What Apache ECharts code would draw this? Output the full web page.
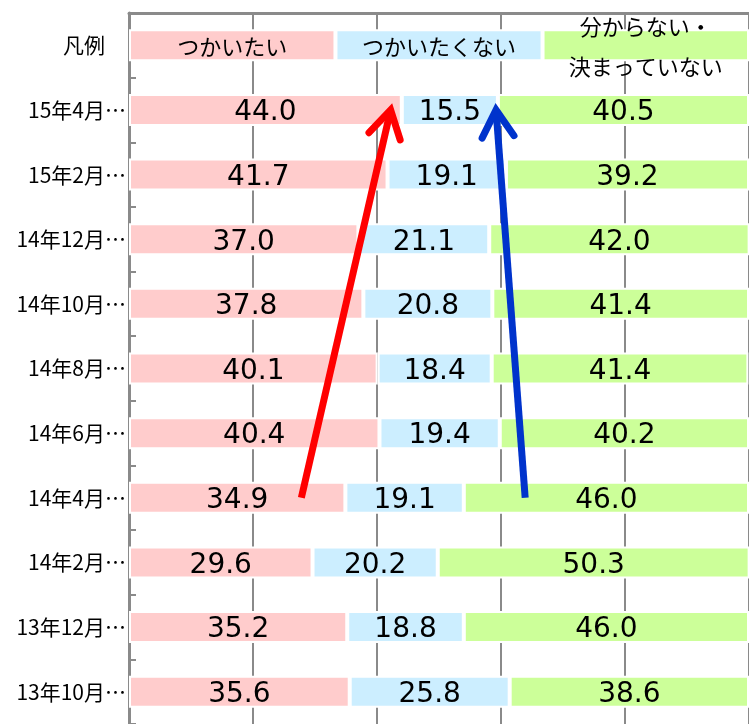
<!DOCTYPE html>
<html>
<head>
<meta charset="utf-8">
<script src="https://cdn.jsdelivr.net/npm/echarts@6/dist/echarts.min.js"></script>
<style>
  html, body { margin: 0; padding: 0; background: #fff; }
  #chart { width: 749px; height: 724px; }
</style>
</head>
<body>
<div id="chart"></div>
<script>
// rows top -> bottom, first row is the legend bar
const categories = ['凡例　', '15年4月…', '15年2月…', '14年12月…', '14年10月…', '14年8月…',
  '14年6月…', '14年4月…', '14年2月…', '13年12月…', '13年10月…'];
const seriesNames = ['つかいたい', 'つかいたくない', '分からない・\n決まっていない'];
const legendShare = [33.3, 33.4, 33.3];
const wantTo = [44.0, 41.7, 37.0, 37.8, 40.1, 40.4, 34.9, 29.6, 35.2, 35.6];
const notWant = [15.5, 19.1, 21.1, 20.8, 18.4, 19.4, 19.1, 20.2, 18.8, 25.8];
const undecided = [40.5, 39.2, 42.0, 41.4, 41.4, 40.2, 46.0, 50.3, 46.0, 38.6];
const colors = ['#ffcccc', '#cceeff', '#ccff99'];
// annotation arrows: [x start, row start, x tip, row tip] in axis units
const redArrow = [27.8, 7.0, 42.2, 0.98];
const blueArrow = [63.9, 7.0, 59.2, 0.98];

const numFont = "'DejaVu Sans', 'Noto Sans CJK JP', sans-serif";
const jpFont = "'Noto Sans CJK JP', sans-serif";

const buildData = (legendVal, values, name) => [
  {
    value: legendVal,
    label: { formatter: name, fontSize: 22, fontFamily: jpFont, lineHeight: 40, offset: [0, 1] },
  },
  ...values,
];

const barSeries = [wantTo, notWant, undecided].map((vals, i) => ({
  name: seriesNames[i],
  type: 'bar',
  stack: 'all',
  barWidth: 32,
  itemStyle: { color: colors[i], borderColor: '#fff', borderWidth: 2 },
  label: {
    show: true,
    position: 'inside',
    color: '#000',
    fontSize: 28,
    fontFamily: numFont,
    offset: [0, 3],
    formatter: (p) => Number(p.value).toFixed(1),
  },
  data: buildData(legendShare[i], vals, seriesNames[i]),
}));

const arrowSeries = (arr, color) => ({
  type: 'custom',
  z: 10,
  silent: true,
  dimensions: ['x0', 'y0', 'x1', 'y1'],
  encode: { x: [0, 2], y: [1, 3] },
  data: [arr],
  renderItem: (params, api) => {
    const p0 = api.coord([api.value(0), api.value(1)]);
    const p1 = api.coord([api.value(2), api.value(3)]);
    const dx = p1[0] - p0[0];
    const dy = p1[1] - p0[1];
    const len = Math.sqrt(dx * dx + dy * dy);
    const ux = dx / len;
    const uy = dy / len;
    const nx = -uy;
    const ny = ux;
    const back = 27;
    const half = 16;
    const armA = [p1[0] - ux * back + nx * half, p1[1] - uy * back + ny * half];
    const armB = [p1[0] - ux * back - nx * half, p1[1] - uy * back - ny * half];
    return {
      type: 'group',
      children: [
        {
          type: 'line',
          shape: { x1: p0[0], y1: p0[1], x2: p1[0] - ux * 4, y2: p1[1] - uy * 4 },
          style: { stroke: color, lineWidth: 7 },
        },
        {
          type: 'polyline',
          shape: { points: [armA, p1, armB] },
          style: { stroke: color, fill: null, lineWidth: 7, lineCap: 'round', lineJoin: 'miter' },
        },
      ],
    };
  },
});

const chart = echarts.init(document.getElementById('chart'));
chart.setOption({
  animation: false,
  grid: { left: 129, top: 13, right: -3, bottom: -4, containLabel: false },
  xAxis: {
    type: 'value',
    position: 'top',
    min: 0,
    max: 100,
    interval: 20,
    axisLine: { show: true, lineStyle: { color: '#8a8a8a', width: 3 } },
    axisTick: { show: false },
    axisLabel: { show: false },
    splitLine: { show: true, lineStyle: { color: '#8a8a8a', width: 2 } },
  },
  yAxis: {
    type: 'category',
    inverse: true,
    data: categories,
    axisLine: { show: true, lineStyle: { color: '#8a8a8a', width: 3 } },
    axisTick: { show: true, inside: true, length: 7, lineStyle: { color: '#8a8a8a', width: 2 } },
    axisLabel: { color: '#000', fontSize: 21, fontFamily: jpFont, margin: 3 },
    splitLine: { show: false },
  },
  series: [...barSeries, arrowSeries(redArrow, '#ff0000'), arrowSeries(blueArrow, '#0033cc')],
});
</script>
</body>
</html>
